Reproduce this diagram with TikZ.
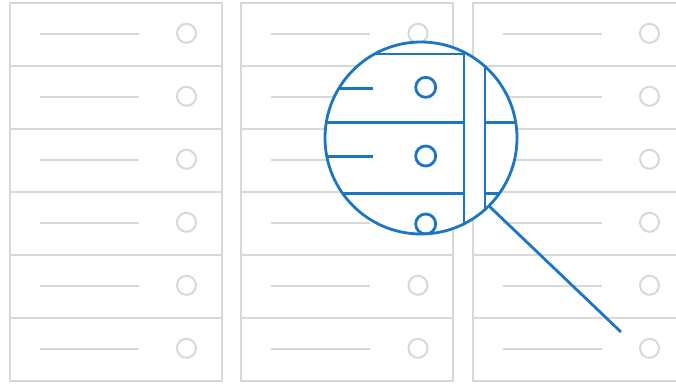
\documentclass[tikz,border=0pt]{standalone}
\usetikzlibrary{calc}
\definecolor{rackgray}{HTML}{D8D8D8}
\definecolor{lensblue}{HTML}{1C75C5}
\begin{document}
\begin{tikzpicture}[x=1pt, y=-1pt,
                    slot/.style={draw=rackgray, line width=2pt, minimum width=212pt, minimum height=63pt, inner sep=0pt, outer sep=0pt},
                    led/.style={draw=rackgray, line width=2pt, circle, minimum size=19pt, inner sep=0pt},
                    bar/.style={draw=rackgray, line width=2pt},
                    zoomline/.style={draw=lensblue, line width=2.8pt},
                    zoomled/.style={draw=lensblue, line width=2.8pt, circle, minimum size=20pt, inner sep=0pt},
                    lens/.style={draw=lensblue, line width=2.8pt, circle, minimum size=192pt, inner sep=0pt, outer sep=0pt}
                    ]
                    \useasboundingbox (0,0) rectangle (676,383);
                    \clip (0,0) rectangle (676,383);
                    \fill[white] (0,0) rectangle (676,383);

                    % racks
                    \foreach \c in {0,1,2}{
                        \foreach \r in {0,...,5}{
                            \node[slot] (s\c\r) at (115.5+231.5*\c, 34.8+63*\r) {};
                            \node[led] (l\c\r) at ($(s\c\r.west)+(177,-1.5)$) {};
                            \draw[bar] ($(s\c\r.west)+(30,-1)$) -- ++(99,0);
                        }
                    }

                    % magnifier
                    \fill[white] (421,138) circle (96);
                    \begin{scope}
                        \clip (421,138) circle (96);
                        \foreach \y in {54,122.7,193.3}{
                            \draw[zoomline] (300,\y) -- (464,\y);
                            \draw[zoomline] (485,\y) -- (540,\y);
                        }
                        \draw[zoomline] (464,30) -- (464,250);
                        \draw[zoomline] (485,30) -- (485,250);
                        \foreach \i/\y in {1/87.3,2/156,3/224}{
                            \node[zoomled] (z\i) at (425.7,\y) {};
                        }
                        \draw[zoomline] (300,88.3) -- (372.7,88.3);
                        \draw[zoomline] (300,156.7) -- (372.7,156.7);
                    \end{scope}
                    \node[lens] (lens) at (421,138) {};
                    \coordinate (grip) at (621,332);
                    \draw[zoomline] (lens.-45) -- (grip);
                \end{tikzpicture}
\end{document}
